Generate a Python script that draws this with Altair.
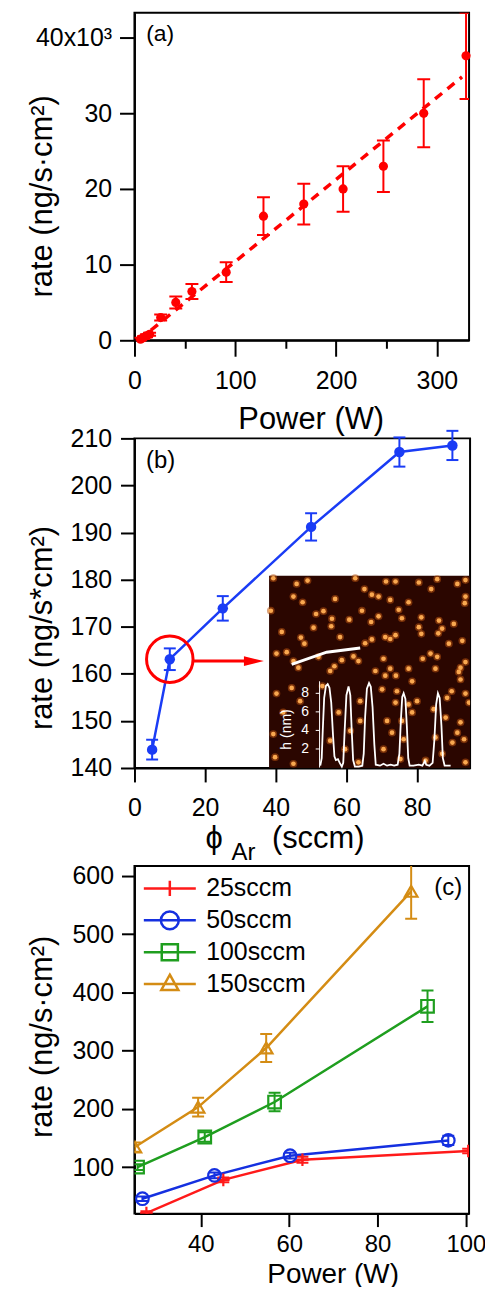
import altair as alt
import pandas as pd

FONT = "Liberation Sans"
RED = "#ff0000"
BLUE = "#1a3cf5"

# ======================= DATA =======================
# ---- panel (a) ----
a_power = [6, 9, 12, 15, 26, 41, 57, 91, 128, 168, 207, 247, 287, 329]
a_rate = [150, 350, 600, 800, 3000, 5000, 6450, 9000, 16400, 18000, 20000, 23000, 30000, 37600]
a_err = [200, 200, 200, 200, 400, 800, 1000, 1300, 2500, 2700, 3000, 3400, 4500, 5700]
a_fit_power = [4, 325]
a_fit_rate = [0, 34800]
a_x_ticks = [0, 50, 100, 150, 200, 250, 300]
a_y_ticks = [0, 10000, 20000, 30000, 40000]
a_tag = {"tx": [25.5], "ty": [40490], "t": ["(a)"]}

# ---- panel (b) ----
b_flow = [5, 10, 25, 50, 75, 90]
b_rate = [143.9, 163.1, 173.9, 191.2, 207.1, 208.5]
b_err = [2.1, 2.3, 2.6, 2.9, 3.1, 3.1]
b_x_ticks = [0, 20, 40, 60, 80]
b_y_ticks = [140, 150, 160, 170, 180, 190, 200, 210]
b_tag = {"tx": [7.4], "ty": [205.2], "t": ["(b)"]}
b_xtitle = {"tx": [20.1, 27.5, 38.9], "ty": [123.0, 120.5, 123.0],
            "t": ["ϕ", "Ar", "(sccm)"], "fs": [31, 24, 31]}
b_circle = {"x": [10], "y": [163.1]}
b_arrow = {"x": [16.4], "x2": [32.0], "y": [162.7]}
b_arrow_head = {"x": [33.8], "y": [162.7]}

# inset (AFM image with height profile), in panel-(b) data units
inset_box = {"x1": [38.1], "x2": [95.0], "y1": [140.0], "y2": [180.8]}
inset_dot_x = [39.3, 45.9, 49.0, 62.5, 71.2, 73.9, 80.5, 85.7, 91.4, 93.7,
               45.0, 47.6, 56.8, 65.1, 67.2, 69.1, 72.4, 77.6, 84.0, 93.7,
               93.5, 38.6, 51.4, 53.5, 55.9, 55.7, 60.8, 64.4, 69.1, 74.8,
               75.7, 81.2, 67.0, 50.7, 41.7, 80.5, 86.2, 90.4, 87.1, 81.2,
               86.0, 47.1, 58.2, 71.0, 72.4, 73.9, 67.2, 65.3, 48.1, 89.0,
               92.8, 40.2, 43.1, 83.8, 85.7, 81.6, 70.5, 63.4, 58.7, 62.0,
               56.6, 55.4, 46.4, 45.0, 68.2, 72.4, 77.6, 92.3, 93.7, 52.1,
               85.2,
               71.0, 74.0, 78.6, 91.8, 92.3, 44.5, 53.2, 70.1, 74.3, 80.0,
               89.8, 93.7, 40.2, 46.9, 63.9, 73.9, 77.6, 84.7, 88.5, 94.7,
               42.1, 57.8, 63.9, 71.5, 75.7, 78.6, 88.1, 92.3, 61.1, 72.9,
               76.2, 91.4, 93.3, 90.0, 55.4, 39.3, 59.6, 70.5, 85.2, 87.1,
               82.4, 75.3, 39.8, 45.0, 63.4, 93.7]
inset_dot_y = [180.3, 179.1, 179.8, 180.3, 179.6, 179.6, 179.4, 180.1, 179.1, 179.9,
               176.4, 175.2, 175.9, 178.0, 176.8, 176.4, 175.7, 175.2, 178.0, 176.4,
               175.0, 173.4, 172.7, 173.3, 171.7, 170.1, 171.5, 173.4, 172.2, 173.6,
               171.8, 172.0, 171.0, 169.8, 168.9, 169.9, 171.3, 170.6, 169.6, 168.5,
               168.6, 167.7, 167.8, 167.8, 167.4, 168.2, 167.3, 166.5, 166.4, 166.4,
               167.0, 164.3, 164.6, 164.3, 163.6, 163.2, 163.2, 162.7, 162.9, 163.7,
               161.6, 160.6, 161.3, 162.7, 160.6, 161.1, 161.1, 161.3, 162.5, 163.6,
               161.1,
               159.6, 159.6, 158.4, 160.4, 158.8, 157.0, 157.4, 156.7, 156.3, 154.2,
               156.3, 155.8, 155.8, 154.2, 154.2, 153.9, 153.5, 152.5, 154.9, 153.9,
               151.8, 151.8, 150.0, 150.0, 150.0, 151.8, 150.7, 149.7, 147.9, 147.5,
               146.1, 147.5, 146.1, 145.4, 145.8, 147.2, 144.0, 144.0, 146.5, 143.0,
               141.6, 141.9, 142.3, 140.9, 141.2, 141.2]
trace_x = [44.5, 54.4, 63.9]
trace_y = [162.0, 164.6, 165.5]
profile_x = [52.6, 53.0, 53.3, 53.7, 54.2, 54.7, 55.2, 55.7, 56.2, 56.6,
             57.0, 57.6, 58.1, 58.7, 59.1, 59.5, 60.0, 60.6, 61.1, 61.5,
             61.9, 62.4, 63.5, 64.5, 64.9, 65.3, 65.8, 66.4, 66.9, 67.4,
             67.9, 68.3, 69.5, 70.5, 71.5, 72.5, 73.5, 74.5, 75.0, 75.4,
             75.8, 76.2, 76.7, 77.1, 77.5, 77.9, 79.0, 80.5, 81.5, 82.2,
             82.6, 83.5, 84.4, 84.9, 85.4, 85.9, 86.4, 86.9, 87.3, 87.8, 89.5]
profile_h = [0.2, 1.0, 4.0, 7.5, 8.8, 9.0, 8.6, 7.0, 3.5, 1.2,
             0.8, 0.9, 0.5, 0.1, 0.5, 4.0, 7.8, 8.75, 7.8, 4.0,
             0.8, 0.1, 0.1, 0.2, 1.5, 5.5, 8.5, 9.1, 8.7, 6.5,
             2.5, 0.3, 0.2, 0.4, 0.2, 0.3, 0.2, 0.3, 1.5, 5.0,
             7.6, 8.0, 7.4, 4.5, 1.0, 0.2, 0.2, 0.3, 0.2, 0.7,
             0.3, 0.2, 0.5, 3.0, 6.8, 8.0, 7.5, 4.5, 1.0, 0.2, 0.2]
inset_h_ticks = [2, 4, 6, 8]
inset_axis = {"x": [52.4], "x_tick": [51.3], "h0": [0.0], "h1": [9.3], "x_lab": [49.4],
              "x_title": [43.1], "h_title": [4.1]}
H_TO_Y = "140.1 + 1.97 * datum.h"

# ---- panel (c) ----
c_series = ["25sccm", "50sccm", "100sccm", "150sccm"]
c_colors = ["#ff1a1a", "#1530e0", "#1f9e1f", "#d48c14"]
c_power = {"25sccm": [27.7, 45.1, 63.0, 100.5],
           "50sccm": [26.8, 43.1, 60.2, 96.0],
           "100sccm": [25.7, 40.9, 56.7, 91.3],
           "150sccm": [25.1, 39.4, 54.8, 87.6]}
c_rate = {"25sccm": [21, 78, 112.6, 127.5],
          "50sccm": [45.6, 85.7, 119.5, 145.8],
          "100sccm": [100, 151.6, 211.7, 376.1],
          "150sccm": [134.4, 203, 304.5, 573.7]}
c_err = {"25sccm": [3, 4, 5, 4],
         "50sccm": [4, 5, 5, 8],
         "100sccm": [5, 8, 16, 27],
         "150sccm": [8, 16, 24, 47]}
c_x_ticks = [40, 60, 80, 100]
c_y_ticks = [100, 200, 300, 400, 500, 600]
c_tag = {"tx": [96], "ty": [578.7], "t": ["(c)"]}


# ======================= HELPERS =======================
def sc(lo, hi):
    return alt.Scale(domain=[lo, hi], nice=False, zero=False)


def with_bounds(vals, errs):
    lo = [v - e for v, e in zip(vals, errs)]
    hi = [v + e for v, e in zip(vals, errs)]
    return lo, hi


def tag_layer(d, xs, ys, size=24):
    return alt.Chart(pd.DataFrame(d)).mark_text(font=FONT, fontSize=size, color="black").encode(
        x=alt.X("tx:Q", scale=xs), y=alt.Y("ty:Q", scale=ys), text="t:N")


# ======================= PANEL (a) =======================
XA, YA = sc(0, 332), sc(0, 43300)
a_lo, a_hi = with_bounds(a_rate, a_err)
dfa = pd.DataFrame({"p": a_power, "r": a_rate, "lo": a_lo, "hi": a_hi})
dfa_fit = pd.DataFrame({"p": a_fit_power, "r": a_fit_rate})

ax_xa = alt.Axis(values=a_x_ticks,
                 labelExpr="datum.value % 100 === 0 ? datum.label : ''",
                 tickSize={"condition": {"test": "datum.value % 100 !== 0", "value": 8}, "value": 16},
                 labelPadding=12, title="Power (W)", titleX=177, titleY=89,
                 titleBaseline="alphabetic", titleAlign="center", titleFontSize=31)
ax_ya = alt.Axis(values=a_y_ticks,
                 labelExpr="datum.value === 40000 ? '40x10³' : format(datum.value / 1000, 'd')",
                 tickSize=15, labelPadding=8, title="rate  (ng/s·cm²)",
                 titleX=-76, titleY=184, titleAngle=270, titleBaseline="bottom",
                 titleAlign="center", titleFontSize=31)

a_fit = alt.Chart(dfa_fit).mark_line(color=RED, strokeWidth=3.5, strokeDash=[9, 7]).encode(
    x=alt.X("p:Q", scale=XA, axis=ax_xa), y=alt.Y("r:Q", scale=YA, axis=ax_ya))
a_rule = alt.Chart(dfa).mark_rule(color=RED, strokeWidth=2, clip=True).encode(
    x=alt.X("p:Q", scale=XA), y=alt.Y("lo:Q", scale=YA), y2="hi:Q")
a_cap_lo = alt.Chart(dfa).mark_tick(color=RED, orient="horizontal", size=13, thickness=2,
                                    opacity=1, clip=True).encode(
    x=alt.X("p:Q", scale=XA), y=alt.Y("lo:Q", scale=YA))
a_cap_hi = alt.Chart(dfa).mark_tick(color=RED, orient="horizontal", size=13, thickness=2,
                                    opacity=1, clip=True).encode(
    x=alt.X("p:Q", scale=XA), y=alt.Y("hi:Q", scale=YA))
a_pts = alt.Chart(dfa).mark_circle(color=RED, size=85, opacity=1).encode(
    x=alt.X("p:Q", scale=XA), y=alt.Y("r:Q", scale=YA))
panel_a = alt.layer(a_fit, a_rule, a_cap_lo, a_cap_hi, a_pts,
                    tag_layer(a_tag, XA, YA, 23)).properties(width=336, height=329)

# ======================= PANEL (b) =======================
XB, YB = sc(0, 95), sc(140, 210)
b_lo, b_hi = with_bounds(b_rate, b_err)
dfb = pd.DataFrame({"f": b_flow, "r": b_rate, "lo": b_lo, "hi": b_hi})

ax_xb = alt.Axis(values=b_x_ticks, tickSize=14, labelPadding=14, title=None)
ax_yb = alt.Axis(values=b_y_ticks, tickSize=14, labelPadding=9, title="rate (ng/s*cm²)",
                 titleX=-76, titleY=190, titleAngle=270, titleBaseline="bottom",
                 titleAlign="center", titleFontSize=31)

b_box = alt.Chart(pd.DataFrame(inset_box)).mark_rect(color="#2b0600", opacity=1).encode(
    x=alt.X("x1:Q", scale=XB, axis=ax_xb), x2="x2:Q",
    y=alt.Y("y1:Q", scale=YB, axis=ax_yb), y2="y2:Q")
dots = pd.DataFrame({"x": inset_dot_x, "y": inset_dot_y})
b_halo = alt.Chart(dots).mark_circle(color="#b8520e", size=60, opacity=0.55, clip=True).encode(
    x=alt.X("x:Q", scale=XB), y=alt.Y("y:Q", scale=YB))
b_core = alt.Chart(dots).mark_circle(color="#f9a850", size=22, opacity=1, clip=True).encode(
    x=alt.X("x:Q", scale=XB), y=alt.Y("y:Q", scale=YB))
b_trace = alt.Chart(pd.DataFrame({"x": trace_x, "y": trace_y})).mark_line(
    color="white", strokeWidth=3).encode(x=alt.X("x:Q", scale=XB), y=alt.Y("y:Q", scale=YB))
b_prof = alt.Chart(pd.DataFrame({"x": profile_x, "h": profile_h})).transform_calculate(
    y=H_TO_Y).mark_line(color="white", strokeWidth=1.8).encode(
    x=alt.X("x:Q", scale=XB), y=alt.Y("y:Q", scale=YB))
ia = pd.DataFrame(inset_axis)
b_iaxis = alt.Chart(ia).transform_calculate(
    ya="140.1 + 1.97 * datum.h0", yb="140.1 + 1.97 * datum.h1").mark_rule(
    color="white", strokeWidth=1).encode(
    x=alt.X("x:Q", scale=XB), y=alt.Y("ya:Q", scale=YB), y2="yb:Q")
iticks = pd.DataFrame({"h": inset_h_ticks, "x": inset_axis["x_tick"] * 4,
                       "x2": inset_axis["x"] * 4, "xl": inset_axis["x_lab"] * 4,
                       "t": [str(v) for v in inset_h_ticks]})
b_iticks = alt.Chart(iticks).transform_calculate(y=H_TO_Y).mark_rule(
    color="white", strokeWidth=1).encode(
    x=alt.X("x:Q", scale=XB), x2="x2:Q", y=alt.Y("y:Q", scale=YB))
b_ilabels = alt.Chart(iticks).transform_calculate(y=H_TO_Y).mark_text(
    color="white", font=FONT, fontSize=14, align="right").encode(
    x=alt.X("xl:Q", scale=XB), y=alt.Y("y:Q", scale=YB), text="t:N")
b_ititle = alt.Chart(pd.DataFrame({"x": inset_axis["x_title"], "h": inset_axis["h_title"],
                                   "t": ["h (nm)"]})).transform_calculate(y=H_TO_Y).mark_text(
    color="white", font=FONT, fontSize=14, angle=270).encode(
    x=alt.X("x:Q", scale=XB), y=alt.Y("y:Q", scale=YB), text="t:N")

b_line = alt.Chart(dfb).mark_line(color=BLUE, strokeWidth=2.5).encode(
    x=alt.X("f:Q", scale=XB), y=alt.Y("r:Q", scale=YB))
b_rule = alt.Chart(dfb).mark_rule(color=BLUE, strokeWidth=2).encode(
    x=alt.X("f:Q", scale=XB), y=alt.Y("lo:Q", scale=YB), y2="hi:Q")
b_cap_lo = alt.Chart(dfb).mark_tick(color=BLUE, orient="horizontal", size=12, thickness=2,
                                    opacity=1).encode(
    x=alt.X("f:Q", scale=XB), y=alt.Y("lo:Q", scale=YB))
b_cap_hi = alt.Chart(dfb).mark_tick(color=BLUE, orient="horizontal", size=12, thickness=2,
                                    opacity=1).encode(
    x=alt.X("f:Q", scale=XB), y=alt.Y("hi:Q", scale=YB))
b_pts = alt.Chart(dfb).mark_circle(color=BLUE, size=110, opacity=1).encode(
    x=alt.X("f:Q", scale=XB), y=alt.Y("r:Q", scale=YB))
b_ring = alt.Chart(pd.DataFrame(b_circle)).mark_point(
    shape="circle", size=2180, filled=False, color=RED, strokeWidth=3, opacity=1).encode(
    x=alt.X("x:Q", scale=XB), y=alt.Y("y:Q", scale=YB))
b_shaft = alt.Chart(pd.DataFrame(b_arrow)).mark_rule(color=RED, strokeWidth=3).encode(
    x=alt.X("x:Q", scale=XB), x2="x2:Q", y=alt.Y("y:Q", scale=YB))
b_head = alt.Chart(pd.DataFrame(b_arrow_head)).mark_point(
    shape="M-1,-0.5L1,0L-1,0.5Z", size=400, filled=True, color=RED, opacity=1).encode(
    x=alt.X("x:Q", scale=XB), y=alt.Y("y:Q", scale=YB))
b_xt = alt.Chart(pd.DataFrame(b_xtitle)).mark_text(
    font=FONT, color="black", align="left", baseline="alphabetic").encode(
    x=alt.X("tx:Q", scale=XB), y=alt.Y("ty:Q", scale=YB), text="t:N",
    size=alt.Size("fs:Q", scale=None))
panel_b = alt.layer(b_box, b_halo, b_core, b_trace, b_iaxis, b_iticks, b_ilabels, b_ititle,
                    b_prof, b_line, b_rule, b_cap_lo, b_cap_hi, b_pts, b_ring, b_shaft,
                    b_head, b_xt, tag_layer(b_tag, XB, YB, 24)).properties(width=337, height=331)

# ======================= PANEL (c) =======================
XC, YC = sc(25, 100.7), sc(20, 617)
rows = []
for s in c_series:
    for p, r, e in zip(c_power[s], c_rate[s], c_err[s]):
        rows.append({"s": s, "p": p, "r": r, "lo": r - e, "hi": r + e})
dfc = pd.DataFrame(rows)
PLUS = "M-1,0H1M0,-1V1"

L_PLUS = "M-2.9,0H2.9M0,-0.85V0.85"
L_CIRC = "M-2.9,0H2.9M-1,0A1,1 0 1,0 1,0A1,1 0 1,0 -1,0"
L_SQ = "M-2.9,0H2.9M-0.9,-0.9H0.9V0.9H-0.9Z"
L_TRI = "M-2.9,0H2.9M0,-1.05L0.95,0.65H-0.95Z"


def cscale():
    return alt.Scale(domain=c_series, range=c_colors)


def leg():
    return alt.Legend(orient="none", legendX=23, legendY=10, title=None,
                      labelFont=FONT, labelFontSize=25, labelColor="black",
                      symbolSize=324, symbolStrokeWidth=2.5, symbolOpacity=1,
                      labelOffset=24, rowPadding=4, padding=0)


ax_xc = alt.Axis(values=c_x_ticks, tickSize=13, labelPadding=6, labelFontSize=24,
                 title="Power (W)", titleX=199, titleY=69, titleBaseline="alphabetic",
                 titleAlign="center", titleFontSize=28)
ax_yc = alt.Axis(values=c_y_ticks, tickSize=13, labelPadding=8, title="rate (ng/s·cm²)",
                 titleX=-76, titleY=171, titleAngle=270, titleBaseline="bottom",
                 titleAlign="center", titleFontSize=31)

c_line = alt.Chart(dfc).mark_line(strokeWidth=2.5, clip=True).encode(
    x=alt.X("p:Q", scale=XC, axis=ax_xc), y=alt.Y("r:Q", scale=YC, axis=ax_yc),
    color=alt.Color("s:N", scale=cscale(), legend=None))
c_rule = alt.Chart(dfc).mark_rule(strokeWidth=2, clip=True).encode(
    x=alt.X("p:Q", scale=XC), y=alt.Y("lo:Q", scale=YC), y2="hi:Q",
    color=alt.Color("s:N", scale=cscale(), legend=None))
c_cap_lo = alt.Chart(dfc).mark_tick(orient="horizontal", size=12, thickness=2, opacity=1,
                                    clip=True).encode(
    x=alt.X("p:Q", scale=XC), y=alt.Y("lo:Q", scale=YC),
    color=alt.Color("s:N", scale=cscale(), legend=None))
c_cap_hi = alt.Chart(dfc).mark_tick(orient="horizontal", size=12, thickness=2, opacity=1,
                                    clip=True).encode(
    x=alt.X("p:Q", scale=XC), y=alt.Y("hi:Q", scale=YC),
    color=alt.Color("s:N", scale=cscale(), legend=None))
c_pts = alt.Chart(dfc).mark_point(filled=False, size=160, strokeWidth=2.2, opacity=1,
                                  clip=True).encode(
    x=alt.X("p:Q", scale=XC), y=alt.Y("r:Q", scale=YC),
    color=alt.Color("s:N", scale=cscale(), legend=None),
    shape=alt.Shape("s:N", scale=alt.Scale(domain=c_series,
                                           range=[PLUS, "circle", "square", "triangle-up"]),
                    legend=None))
# legend-only layer: no rows, the legend comes from the explicit scale domains
c_leg = alt.Chart(dfc.iloc[0:0]).mark_point(filled=False, size=160, strokeWidth=2.5,
                                            opacity=1, clip=True).encode(
    x=alt.X("p:Q", scale=XC), y=alt.Y("r:Q", scale=YC),
    color=alt.Color("s:N", scale=cscale(), legend=leg()),
    shape=alt.Shape("s:N", scale=alt.Scale(domain=c_series,
                                           range=[L_PLUS, L_CIRC, L_SQ, L_TRI]),
                    legend=leg()))
panel_c = alt.layer(c_line, c_rule, c_cap_lo, c_cap_hi, c_pts, c_leg,
                    tag_layer(c_tag, XC, YC, 24)).resolve_scale(
    color="independent", shape="independent").properties(width=336, height=349)

# ======================= LAYOUT =======================
chart = alt.vconcat(panel_a, panel_b, panel_c, spacing=98.5, bounds="flush").properties(
    padding={"left": 18, "top": 1, "right": -2, "bottom": -5})
chart = chart.configure_view(stroke="black", strokeWidth=2).configure_axis(
    grid=False, domainColor="black", domainWidth=2, tickColor="black", tickWidth=2,
    labelColor="black", titleColor="black", labelFont=FONT, titleFont=FONT,
    labelFontSize=25, titleFontWeight="normal", labelFlush=False, labelOverlap=False,
    labelBound=False)

chart.save("out.html", embed_options={"renderer": "svg", "actions": False})
